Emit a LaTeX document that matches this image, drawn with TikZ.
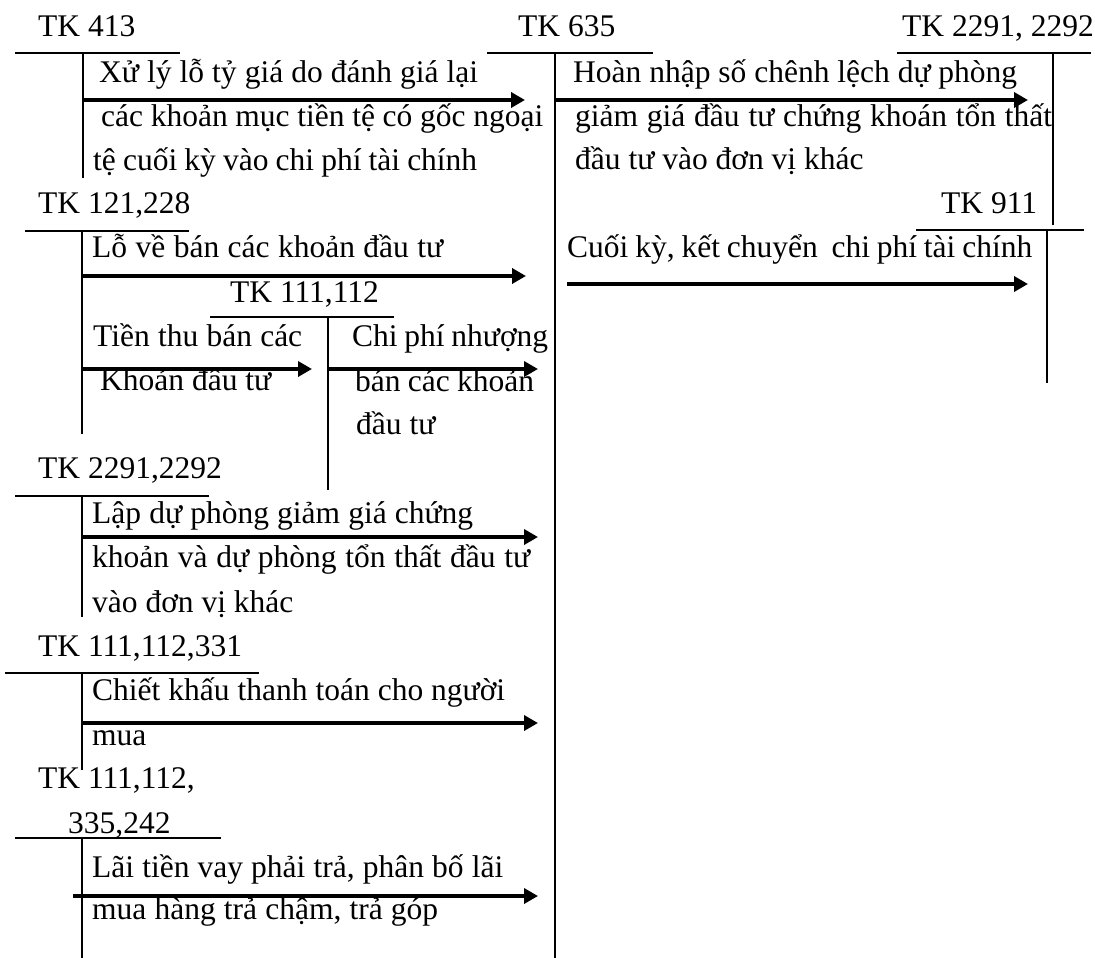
\documentclass[tikz,border=0pt]{standalone}
\usepackage{fontspec}
\setmainfont{Liberation Serif}
\usepackage{tikz}
\usetikzlibrary{arrows.meta}
\newcommand{\jline}[2]{\makebox[#1pt][s]{#2}}
\tikzset{
  tline/.style={line width=2.2pt},
  flow/.style={line width=3.8pt,-{Triangle[length=14pt,width=15pt]}},
  txt/.style={anchor=base west,inner sep=0pt}
}

\begin{document}
\begin{tikzpicture}[x=1pt,y=-1pt,font=\fontsize{31.5}{38}\selectfont]
\useasboundingbox (0,0) rectangle (1095,958);
% TK 635 (trung tâm)
\node[txt] (n635) at (518,37) {TK 635};
\draw[tline] (487,53) -- (653,53);
\draw[tline] (555,53) -- (555,958);
% TK 413
\node[txt] (n413) at (38,37) {TK 413};
\draw[tline] (15,53) -- (180,53);
\draw[tline] (83,53) -- (83,178);
\coordinate (s1) at (83,100); \coordinate (e1) at (525,100);
\draw[flow] (s1) -- (e1);
\node[txt] (l1a) at (99,82) {\jline{379}{Xử lý lỗ tỷ giá do đánh giá lại}};
\node[txt] (l1b) at (101,126) {\jline{442}{các khoản mục tiền tệ có gốc ngoại}};
\node[txt] (l1c) at (93,170) {\jline{384}{tệ cuối kỳ vào chi phí tài chính}};
% TK 2291, 2292 (bên phải)
\node[txt] (n2291r) at (902,37) {TK 2291, 2292};
\draw[tline] (897,53) -- (1091,53);
\draw[tline] (1053,53) -- (1053,225);
\coordinate (s2) at (555,100); \coordinate (e2) at (1028,100);
\draw[flow] (s2) -- (e2);
\node[txt] (l2a) at (573,82) {\jline{444}{Hoàn nhập số chênh lệch dự phòng}};
\node[txt] (l2b) at (575,126) {\jline{477}{giảm giá đầu tư chứng khoán tổn thất}};
\node[txt] (l2c) at (575,169) {đầu tư vào đơn vị khác};
% TK 911
\node[txt] (n911) at (941,213) {TK 911};
\draw[tline] (916,230) -- (1084,230);
\draw[tline] (1047,230) -- (1047,383);
\node[txt] (l3) at (567,257) {\jline{465}{Cuối kỳ, kết chuyển\ \ chi phí tài chính}};
\coordinate (s3) at (567,284); \coordinate (e3) at (1028,284);
\draw[flow] (s3) -- (e3);
% TK 121,228
\node[txt] (n121) at (38,213) {TK 121,228};
\draw[tline] (25,231) -- (189,231);
\draw[tline] (82,231) -- (82,434);
\node[txt] (l4) at (92,257) {\jline{351}{Lỗ về bán các khoản đầu tư}};
\coordinate (s4) at (82,276); \coordinate (e4) at (526,276);
\draw[flow] (s4) -- (e4);
% TK 111,112
\node[txt] (n111) at (230,302) {TK 111,112};
\draw[tline] (210,317) -- (394,317);
\draw[tline] (328,317) -- (328,490);
\node[txt] (l5a) at (93,346) {\jline{209}{Tiền thu bán các}};
\node[txt] (l5b) at (100,390) {Khoản đầu tư};
\coordinate (s5) at (82,369); \coordinate (e5) at (312,369);
\draw[flow] (s5) -- (e5);
\node[txt] (l6a) at (352,346) {\jline{196}{Chi phí nhượng}};
\node[txt] (l6b) at (355,391) {\jline{179}{bán các khoản}};
\node[txt] (l6c) at (356,434) {đầu tư};
\coordinate (s6) at (328,369); \coordinate (e6) at (538,369);
\draw[flow] (s6) -- (e6);
% TK 2291,2292 (bên trái)
\node[txt] (n2291l) at (38,478) {TK 2291,2292};
\draw[tline] (15,496) -- (209,496);
\draw[tline] (82,496) -- (82,617);
\node[txt] (l7a) at (92,523) {\jline{381}{Lập dự phòng giảm giá chứng}};
\node[txt] (l7b) at (92,567) {\jline{438}{khoản và dự phòng tổn thất đầu tư}};
\node[txt] (l7c) at (92,612) {vào đơn vị khác};
\coordinate (s7) at (82,537); \coordinate (e7) at (538,537);
\draw[flow] (s7) -- (e7);
% TK 111,112,331
\node[txt] (n331) at (38,656) {TK 111,112,331};
\draw[tline] (5,673) -- (259,673);
\draw[tline] (82,673) -- (82,770);
\node[txt] (l8a) at (92,700) {\jline{413}{Chiết khấu thanh toán cho người}};
\node[txt] (l8b) at (92,745) {mua};
\coordinate (s8) at (82,723); \coordinate (e8) at (538,723);
\draw[flow] (s8) -- (e8);
% TK 111,112,335,242
\node[txt] (n335a) at (38,788) {TK 111,112,};
\node[txt] (n335b) at (68,833) {335,242};
\draw[tline] (15,838) -- (221,838);
\draw[tline] (82,838) -- (82,958);
\node[txt] (l9a) at (92,877) {\jline{411}{Lãi tiền vay phải trả, phân bố lãi}};
\node[txt] (l9b) at (92,919) {\jline{346}{mua hàng trả chậm, trả góp}};
\coordinate (s9) at (73,896); \coordinate (e9) at (538,896);
\draw[flow] (s9) -- (e9);
\end{tikzpicture}
\end{document}
